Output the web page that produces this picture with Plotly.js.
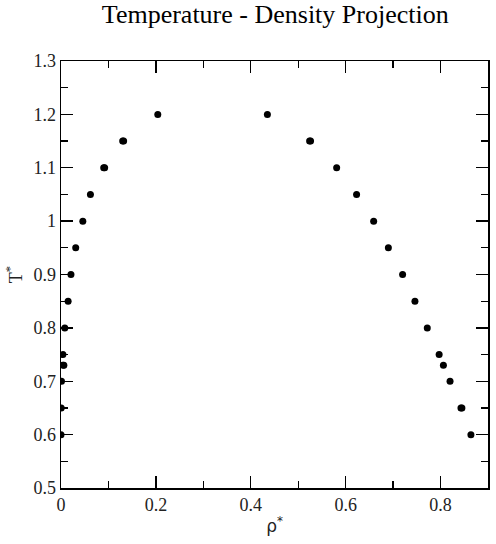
<!DOCTYPE html>
<html>
<head>
<meta charset="utf-8">
<script src="https://cdn.plot.ly/plotly-3.0.1.min.js"></script>
<style>
  html, body { margin: 0; padding: 0; background: #fff; }
  #chart { width: 496px; height: 544px; }
</style>
</head>
<body>
<div id="chart"></div>
<script>
// Coexistence temperatures (reduced units)
const temps = [0.6, 0.65, 0.7, 0.73, 0.75, 0.8, 0.85, 0.9, 0.95, 1.0, 1.05, 1.1, 1.15, 1.2];
// Vapour branch densities
const rhoVapor = [0.000, 0.0005, 0.001, 0.004, 0.004, 0.008, 0.015, 0.021, 0.031, 0.046, 0.062, 0.090, 0.130, 0.204];
// Liquid branch densities
const rhoLiquid = [0.864, 0.843, 0.820, 0.806, 0.797, 0.772, 0.746, 0.720, 0.690, 0.659, 0.623, 0.581, 0.524, 0.435];
// Repeated runs that overlap the points above
const repeatTemps = [0.73, 1.1, 1.15, 1.15, 0.65];
const repeatRho = [0.006, 0.092, 0.132, 0.526, 0.845];

const serif = "Liberation Serif";
const markerStyle = { symbol: "circle", size: 7, color: "#000" };

const traces = [
  { x: rhoVapor, y: temps, mode: "markers", type: "scatter", marker: markerStyle },
  { x: rhoLiquid, y: temps, mode: "markers", type: "scatter", marker: markerStyle },
  { x: repeatRho, y: repeatTemps, mode: "markers", type: "scatter", marker: markerStyle },
];

function axisBase() {
  return {
    showline: true,
    linecolor: "#000",
    linewidth: 1.5,
    mirror: "allticks",
    ticks: "inside",
    ticklen: 12,
    tickwidth: 1.3,
    tickcolor: "#000",
    showgrid: false,
    zeroline: false,
    tickfont: { family: serif, size: 18, color: "#222" },
  };
}

const layout = {
  width: 496,
  height: 544,
  margin: { l: 61, r: 8, t: 61, b: 56 },
  paper_bgcolor: "#fff",
  plot_bgcolor: "#fff",
  showlegend: false,
  font: { family: serif, size: 18, color: "#222" },
  title: {
    text: "Temperature - Density Projection",
    font: { family: serif, size: 26, color: "#000" },
    x: 0.555,
    xanchor: "center",
    y: 0.974,
    yanchor: "middle",
    yref: "container",
  },
  xaxis: Object.assign(axisBase(), {
    range: [0, 0.9],
    tick0: 0,
    dtick: 0.2,
    minor: { ticks: "inside", ticklen: 7, dtick: 0.1, tickcolor: "#000", tickwidth: 1.3 },
    title: {
      text: "ρ<sup>*</sup>",
      font: { family: "DejaVu Sans", size: 17, color: "#222" },
      standoff: 6,
    },
  }),
  yaxis: Object.assign(axisBase(), {
    range: [0.5, 1.3],
    tick0: 0.5,
    dtick: 0.1,
    minor: { ticks: "inside", ticklen: 7, dtick: 0.05, tickcolor: "#000", tickwidth: 1.3 },
    title: {
      text: "T<sup>*</sup>",
      font: { family: serif, size: 18, color: "#222" },
      standoff: 6,
    },
  }),
};

Plotly.newPlot("chart", traces, layout, { displayModeBar: false, staticPlot: true });
</script>
</body>
</html>
